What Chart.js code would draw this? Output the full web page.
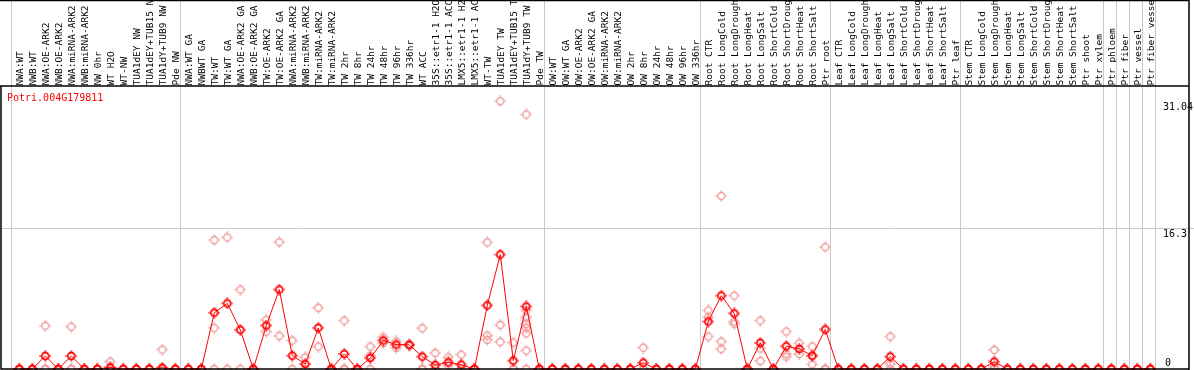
<!DOCTYPE html>
<html>
<head>
<meta charset="utf-8">
<script src="https://cdn.jsdelivr.net/npm/chart.js@4"></script>
<style>
  html, body { margin: 0; padding: 0; background: #fff; }
  #wrap { width: 1194px; height: 370px; }
</style>
</head>
<body>
<div id="wrap"><canvas id="exprChart"></canvas></div>
<script>
// sample labels (x axis, printed at the top)
const categories = [
    'NWA:WT', 'NWB:WT', 'NWA:OE-ARK2', 'NWB:OE-ARK2', 'NWA:miRNA-ARK2', 'NWB:miRNA-ARK2',
    'NW 0hr', 'WT H2O', 'WT-NW', 'TUA1dEY NW', 'TUA1dEY+TUB15 NW', 'TUA1dY+TUB9 NW', 'Pde NW',
    'NWA:WT GA', 'NWBWT GA', 'TW:WT', 'TW:WT GA', 'NWA:OE-ARK2 GA', 'NWB:OE-ARK2 GA',
    'TW:OE-ARK2', 'TW:OE-ARK2 GA', 'NWA:miRNA-ARK2', 'NWB:miRNA-ARK2', 'TW:miRNA-ARK2', 'TW:miRNA-ARK2',
    'TW 2hr', 'TW 8hr', 'TW 24hr', 'TW 48hr', 'TW 96hr', 'TW 336hr', 'WT ACC',
    '35S::etr1-1 H2O', '35S::etr1-1 ACC', 'LMX5::etr1-1 H2O', 'LMX5::etr1-1 ACC',
    'WT-TW', 'TUA1dEY TW', 'TUA1dEY+TUB15 TW', 'TUA1dY+TUB9 TW', 'Pde TW',
    'OW:WT', 'OW:WT GA', 'OW:OE-ARK2', 'OW:OE-ARK2 GA', 'OW:miRNA-ARK2', 'OW:miRNA-ARK2',
    'OW 2hr', 'OW 8hr', 'OW 24hr', 'OW 48hr', 'OW 96hr', 'OW 336hr',
    'Root CTR', 'Root LongCold', 'Root LongDrought', 'Root LongHeat', 'Root LongSalt',
    'Root ShortCold', 'Root ShortDrought', 'Root ShortHeat', 'Root ShortSalt', 'Ptr root',
    'Leaf CTR', 'Leaf LongCold', 'Leaf LongDrought', 'Leaf LongHeat', 'Leaf LongSalt',
    'Leaf ShortCold', 'Leaf ShortDrought', 'Leaf ShortHeat', 'Leaf ShortSalt', 'Ptr leaf',
    'Stem CTR', 'Stem LongCold', 'Stem LongDrought', 'Stem LongHeat', 'Stem LongSalt',
    'Stem ShortCold', 'Stem ShortDrought', 'Stem ShortHeat', 'Stem ShortSalt',
    'Ptr shoot', 'Ptr xylem', 'Ptr phloem', 'Ptr fiber', 'Ptr vessel', 'Ptr fiber vessel'
];

// mean expression per sample (the red line)
const meanValues = [
    0, 0, 1.51, 0, 1.51, 0, 0, 0.19, 0, 0, 0, 0.15, 0,
    0, 0, 6.52, 7.6, 4.54, 0, 5.04, 9.2, 1.55, 0.58, 4.77, 0,
    1.75, 0, 1.28, 3.3, 2.83, 2.8, 1.43, 0.46, 0.77, 0.5, 0,
    7.37, 13.27, 0.97, 7.25, 0,
    0, 0, 0, 0, 0, 0, 0, 0.73, 0, 0, 0, 0,
    5.5, 8.5, 6.44, 0, 3.03, 0, 2.64, 2.33, 1.55, 4.58,
    0, 0, 0, 0, 1.43, 0, 0, 0, 0, 0,
    0, 0, 0.85, 0, 0, 0, 0, 0, 0, 0, 0, 0, 0, 0, 0
];

// individual replicates per sample (pale circles)
const replicates = [
    [0, 0, 0], [0, 0, 0], [5.0, 0, 0], [0, 0, 0], [4.9, 0, 0], [0, 0, 0],
    [0, 0, 0], [0.85, 0, 0], [0, 0, 0], [0, 0, 0], [0, 0, 0], [2.25, 0, 0], [0, 0, 0],
    [0, 0, 0], [0, 0, 0], [14.94, 4.77, 0], [15.25, 0], [9.2, 0], [0, 0, 0],
    [5.7, 4.34], [14.7, 3.84], [3.3, 0], [1.35, 0], [7.1, 2.6], [0, 0, 0],
    [5.62, 0, 0], [0, 0, 0], [2.6, 1.55, 0], [3.68, 3.0], [3.2, 2.44], [2.9, 2.7], [4.73, 0, 0],
    [1.86, 0], [1.35, 0.4], [1.66, 0], [0, 0, 0],
    [14.67, 3.88, 3.37], [31.04, 5.12, 3.14], [3.06, 0, 0],
    [29.5, 6.8, 6.0, 5.24, 4.77, 4.15, 2.13, 0], [0, 0, 0],
    [0, 0, 0], [0, 0, 0], [0, 0, 0], [0, 0, 0], [0, 0, 0], [0, 0, 0],
    [0, 0, 0], [2.48, 0, 0], [0, 0, 0], [0, 0, 0], [0, 0, 0], [0, 0, 0],
    [6.79, 6.0, 3.76], [20.06, 3.18, 2.33], [8.5, 5.5, 5.24], [0, 0, 0], [5.62, 2.4, 0.93],
    [0, 0, 0], [4.34, 1.75, 1.43], [2.98, 1.75], [2.6, 0.54, 1.5], [14.12, 0, 0],
    [0, 0, 0], [0, 0, 0], [0, 0, 0], [0, 0, 0], [3.76, 0.58, 0],
    [0, 0, 0], [0, 0, 0], [0, 0, 0], [0, 0, 0], [0, 0, 0],
    [0, 0, 0], [0, 0, 0], [2.21, 0.3, 0], [0, 0, 0], [0, 0, 0],
    [0, 0, 0], [0, 0, 0], [0, 0, 0], [0, 0, 0],
    [0, 0, 0], [0, 0, 0], [0, 0, 0], [0, 0, 0], [0, 0, 0], [0, 0, 0]
];

// right-hand value labels and the group separators (index of first sample after a break)
const yTicks = [0, 16.3, 31.04];
const groupStarts = [0, 13, 41, 53, 63, 73, 84, 85, 86, 87, 88];
const geneId = 'Potri.004G179811';

const MONO = '"DejaVu Sans Mono", "Liberation Mono", monospace';

function makeMarker(color, lw) {
    const c = document.createElement('canvas');
    c.width = 12;
    c.height = 12;
    const g = c.getContext('2d');
    g.strokeStyle = color;
    g.lineWidth = lw;
    g.beginPath();
    g.arc(6, 6, 3.5, 0, Math.PI * 2);
    g.stroke();
    g.lineWidth = 1;
    g.beginPath();
    g.moveTo(6, 0); g.lineTo(6, 2.5);
    g.moveTo(6, 9.5); g.lineTo(6, 12);
    g.moveTo(0, 6); g.lineTo(2.5, 6);
    g.moveTo(9.5, 6); g.lineTo(12, 6);
    g.stroke();
    return c;
}

const meanMarker = makeMarker('#ff0000', 1.8);
const repMarker = makeMarker('rgb(240,150,150)', 1.3);

const meanPoints = meanValues.map((v, i) => ({ x: i, y: v }));
const repPoints = [];
replicates.forEach((reps, i) => reps.forEach(v => repPoints.push({ x: i, y: v })));

// gridlines, frame, gene id and value labels
const decorPlugin = {
    id: 'decor',
    beforeDatasetsDraw(chart) {
        const { ctx, chartArea, scales } = chart;
        const xs = scales.x, ys = scales.y;
        ctx.save();
        ctx.strokeStyle = '#c8c8c8';
        ctx.lineWidth = 1;
        groupStarts.forEach(g => {
            const px = Math.round(xs.getPixelForValue(g - 0.5) - 1.5) + 0.5;
            ctx.beginPath();
            ctx.moveTo(px, 0);
            ctx.lineTo(px, chartArea.bottom);
            ctx.stroke();
        });
        const gy = Math.round(ys.getPixelForValue(yTicks[1])) + 0.5;
        ctx.beginPath();
        ctx.moveTo(0, gy);
        ctx.lineTo(chart.width, gy);
        ctx.stroke();
        ctx.restore();
    },
    afterDraw(chart) {
        const { ctx, chartArea, scales } = chart;
        const ys = scales.y;
        ctx.save();
        ctx.strokeStyle = '#000';
        ctx.lineWidth = 1.5;
        ctx.beginPath();
        ctx.moveTo(0, 0.5);
        ctx.lineTo(chartArea.right, 0.5);
        ctx.moveTo(chartArea.right, 0);
        ctx.lineTo(chartArea.right, chart.height);
        ctx.moveTo(0, chartArea.top);
        ctx.lineTo(chartArea.right, chartArea.top);
        ctx.moveTo(chartArea.left, chartArea.top);
        ctx.lineTo(chartArea.left, chartArea.bottom);
        ctx.lineTo(chartArea.right, chartArea.bottom);
        ctx.stroke();

        ctx.font = '10px ' + MONO;
        ctx.fillStyle = '#ff0000';
        ctx.textAlign = 'left';
        ctx.textBaseline = 'middle';
        ctx.fillText(geneId, chartArea.left + 6, chartArea.top + 12);

        ctx.fillStyle = '#000';
        yTicks.forEach(v => {
            const py = ys.getPixelForValue(v);
            if (v === 0) {
                ctx.textBaseline = 'bottom';
                ctx.fillText(String(v), chartArea.right - 24, py - 1);
            } else {
                ctx.textBaseline = 'top';
                ctx.fillText(String(v), chartArea.right - 26, py + 1);
            }
        });
        ctx.restore();
    }
};

const ctx = document.getElementById('exprChart').getContext('2d');
const exprChart = new Chart(ctx, {
    type: 'scatter',
    data: {
        datasets: [{
            label: 'mean',
            data: meanPoints,
            showLine: true,
            borderColor: '#ff0000',
            borderWidth: 1,
            pointStyle: meanMarker,
            pointRadius: 6,
            tension: 0,
            clip: false
        }, {
            label: 'replicates',
            data: repPoints,
            showLine: false,
            pointStyle: repMarker,
            pointRadius: 6,
            clip: false
        }]
    },
    options: {
        responsive: true,
        maintainAspectRatio: false,
        animation: false,
        layout: {
            autoPadding: false,
            padding: { left: 1, right: 5, top: 0, bottom: 1 }
        },
        plugins: {
            legend: { display: false },
            tooltip: { enabled: false }
        },
        scales: {
            x: {
                type: 'linear',
                position: 'top',
                min: -1.408,
                max: 89.977,
                afterBuildTicks: function(scale) {
                    scale.ticks = categories.map((c, i) => ({ value: i }));
                },
                afterFit: function(scale) {
                    scale.height = 86;
                    scale.paddingLeft = 0;
                    scale.paddingRight = 0;
                },
                grid: {
                    display: false,
                    drawTicks: false
                },
                border: { display: false },
                ticks: {
                    autoSkip: false,
                    minRotation: 90,
                    maxRotation: 90,
                    padding: 0.5,
                    labelOffset: 12.5,
                    color: '#000',
                    font: {
                        size: 9.5,
                        family: MONO
                    },
                    callback: function(value) {
                        return categories[value];
                    }
                }
            },
            y: {
                display: false,
                min: 0,
                max: 32.8
            }
        }
    },
    plugins: [decorPlugin]
});
</script>
</body>
</html>
